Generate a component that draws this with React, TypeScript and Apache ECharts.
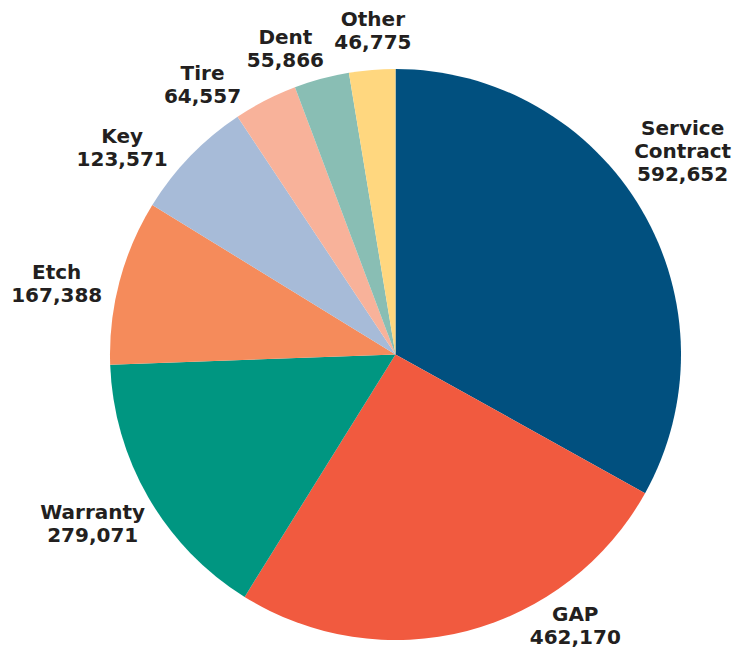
import React, { useEffect, useRef } from 'react';
import * as echarts from 'echarts';

const categories = ['Service Contract', 'GAP', 'Warranty', 'Etch', 'Key', 'Tire', 'Dent', 'Other'];
const values = [592652, 462170, 279071, 167388, 123571, 64557, 55866, 46775];

// styling
const colors = ['#01507f', '#f15a3f', '#009681', '#f58b5b', '#a7bbd8', '#f8b29a', '#89beb4', '#ffd77f'];
// label placement: angular shift from the slice's mid-angle (deg) and distance from pie centre (px)
const labelShift = [-4.8, -19, 0.9, -3, -6.9, -8.5, -4.8, 0.7];
const labelDist = [351.7, 325.5, 346.8, 346.1, 342.7, 331.5, 324.9, 324.5];

const CX = 395.5;
const CY = 354.5;
const R = 285.5;

function midAngle(i: number): number {
  const total = values.reduce((a, b) => a + b, 0);
  let cum = 0;
  for (let k = 0; k < i; k++) cum += values[k];
  return ((cum + values[i] / 2) / total) * 360;
}

export default function App() {
  const ref = useRef<HTMLDivElement>(null);
  useEffect(() => {
    if (!ref.current) return;
    const chart = echarts.init(ref.current, null, { renderer: 'svg' });
    chart.setOption({
      animation: false,
      backgroundColor: '#ffffff',
      series: [
        {
          type: 'pie',
          center: [CX, CY],
          radius: R,
          startAngle: 90,
          clockwise: true,
          avoidLabelOverlap: false,
          data: categories.map((name, i) => ({
            name,
            value: values[i],
            itemStyle: { color: colors[i] },
          })),
          label: {
            show: true,
            position: 'outside',
            formatter: (p: any) =>
              `${String(p.name).replace(' ', '\n')}\n${Number(p.value).toLocaleString('en-US')}`,
            fontFamily: 'DejaVu Sans',
            fontWeight: 'bold',
            fontSize: 20,
            lineHeight: 23,
            color: '#231f20',
            align: 'center',
          },
          labelLine: { show: false },
          labelLayout: (params: any) => {
            const i = params.dataIndex;
            const a = ((midAngle(i) + labelShift[i]) * Math.PI) / 180;
            const d = labelDist[i];
            return {
              x: CX + d * Math.sin(a),
              y: CY - d * Math.cos(a),
              align: 'center',
              verticalAlign: 'middle',
            };
          },
          emphasis: { disabled: true },
        },
      ],
    });
    return () => chart.dispose();
  }, []);
  return (
    <div
      ref={ref}
      style={{ position: 'absolute', left: 0, top: 0, width: 735, height: 650, background: '#fff' }}
    />
  );
}
